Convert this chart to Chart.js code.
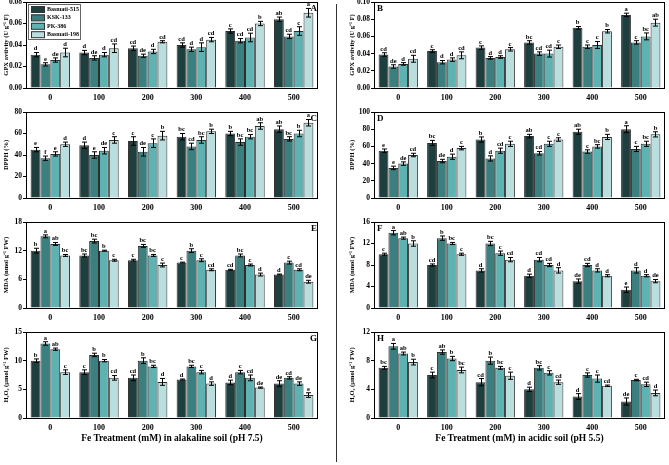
<!DOCTYPE html>
<html><head><meta charset="utf-8">
<script src="https://cdn.jsdelivr.net/npm/chart.js@4"></script>
<style>
body{margin:0;background:#fff;width:669px;height:465px;position:relative;overflow:hidden;font-family:"Liberation Serif",serif;}
canvas{position:absolute;}
.xt{position:absolute;font-weight:bold;font-size:9.5px;text-align:center;color:#000;white-space:nowrap;}
</style></head><body>
<div style="position:absolute;left:336px;top:4px;width:1px;height:458px;background:#333"></div>
<canvas id="cA" width="335" height="115" style="left:0;top:-5px"></canvas>
<canvas id="cC" width="335" height="115" style="left:0;top:105px"></canvas>
<canvas id="cE" width="335" height="115" style="left:0;top:215px"></canvas>
<canvas id="cG" width="335" height="115" style="left:0;top:325px"></canvas>
<canvas id="cB" width="331" height="115" style="left:338px;top:-5px"></canvas>
<canvas id="cD" width="331" height="115" style="left:338px;top:105px"></canvas>
<canvas id="cF" width="331" height="115" style="left:338px;top:215px"></canvas>
<canvas id="cH" width="331" height="115" style="left:338px;top:325px"></canvas>
<div class="xt" style="left:26px;width:292px;top:433px">Fe Treatment (mM) in alakaline soil (pH 7.5)</div>
<div class="xt" style="left:374px;width:291px;top:433px">Fe Treatment (mM) in acidic soil (pH 5.5)</div>
<script>
const categories = ['0','100','200','300','400','500'];
const cultivars = ['Basmati-515','KSK-133','PK-386','Basmati-198'];
const colors = ['#1f3e3e','#3b7f7f','#5fb2b2','#badddd'];

// Panel A: GPX, alkaline soil
const gpxAlkValues = [[0.031,0.033,0.037,0.040,0.053,0.064],[0.022,0.028,0.030,0.036,0.044,0.048],[0.026,0.031,0.034,0.038,0.047,0.053],[0.033,0.037,0.043,0.045,0.060,0.070]];
const gpxAlkErrors = [[0.002,0.002,0.002,0.002,0.002,0.002],[0.0015,0.002,0.0015,0.002,0.002,0.002],[0.002,0.002,0.002,0.004,0.004,0.004],[0.004,0.004,0.001,0.002,0.002,0.004]];
const gpxAlkLetters = [['d','d','cd','cd','c','ab'],['e','de','de','d','cd','cd'],['de','d','d','d','cd','c'],['d','cd','cd','cd','b','a']];
const gpxAlkTicks = ['0.00','0.02','0.04','0.06','0.08'];

// Panel B: GPX, acidic soil
const gpxAcdValues = [[0.039,0.043,0.047,0.053,0.070,0.085],[0.025,0.030,0.035,0.040,0.048,0.053],[0.028,0.033,0.036,0.040,0.050,0.060],[0.034,0.038,0.045,0.048,0.066,0.076]];
const gpxAcdErrors = [[0.002,0.0015,0.002,0.002,0.0015,0.002],[0.002,0.002,0.0015,0.002,0.002,0.002],[0.0015,0.002,0.0015,0.004,0.004,0.004],[0.004,0.004,0.002,0.002,0.002,0.004]];
const gpxAcdLetters = [['cd','c','c','bc','b','a'],['de','d','d','cd','c','c'],['d','d','d','cd','c','bc'],['cd','cd','c','c','b','ab']];
const gpxAcdTicks = ['0.00','0.02','0.04','0.06','0.08','0.10'];

// Panel C: DPPH, alkaline soil
const dpphAlkValues = [[45,49,53,57,60,64],[37,40,43,48,52,55],[41,44,51,54,57,60],[50,54,58,62,67,70]];
const dpphAlkErrors = [[2,3,4,3,2,3],[2,3,4,3,3,2],[2,3,4,3,2,3],[2,3,4,2,3,3]];
const dpphAlkLetters = [['e','d','c','bc','b','ab'],['f','e','de','cd','bc','bc'],['e','de','c','bc','bc','b'],['d','c','b','b','ab','a']];
const dpphAlkTicks = ['0','20','40','60','80'];

// Panel D: DPPH, acidic soil
const dpphAcdValues = [[55,64,68,72,77,80],[35,43,46,52,54,57],[40,48,55,63,60,63],[50,58,63,68,71,74]];
const dpphAcdErrors = [[2,3,3,2,3,4],[2,2,3,2,2,3],[2,3,3,3,2,3],[2,2,3,2,3,3]];
const dpphAcdLetters = [['e','bc','b','ab','ab','a'],['e','de','d','cd','c','c'],['de','d','cd','c','bc','bc'],['cd','c','c','c','b','b']];
const dpphAcdTicks = ['0','20','40','60','80','100'];

// Panel E: MDA, alkaline soil
const mdaAlkValues = [[12,11,10,9.5,8,7],[15,14,13,12,11,9.5],[13.4,12,11,10,9,8],[11,10,9,8,7,5.5]];
const mdaAlkErrors = [[0.5,0.3,0.2,0.1,0.1,0.1],[0.3,0.4,0.3,0.4,0.3,0.3],[0.3,0.1,0.2,0.3,0.2,0.2],[0.2,0.2,0.4,0.2,0.3,0.3]];
const mdaAlkLetters = [['b','bc','c','c','cd','d'],['a','bc','bc','b','bc','c'],['ab','b','bc','c','c','cd'],['bc','c','c','cd','d','de']];
const mdaAlkTicks = ['0','6','12','18'];

// Panel F: MDA, acidic soil
const mdaAcdValues = [[10,8,7,6,5,3.4],[14,13,12,9,8,7],[13,12,10.2,8,7,6],[12,10,9,7,6,5]];
const mdaAcdErrors = [[0.2,0.2,0.3,0.3,0.4,0.5],[0.4,0.4,0.4,0.4,0.3,0.5],[0.2,0.2,0.4,0.3,0.3,0.2],[0.5,0.2,0.4,0.5,0.2,0.3]];
const mdaAcdLetters = [['c','cd','d','d','de','e'],['a','b','bc','cd','cd','d'],['ab','bc','c','cd','d','d'],['b','c','cd','d','d','de']];
const mdaAcdTicks = ['0','4','8','12','16'];

// Panel G: H2O2, alkaline soil
const h2o2AlkValues = [[10,8,7,6.7,6.2,6],[13,11,10,9,8,7],[12,10,9,8,7,6],[8,7,6.3,6,5.3,4]];
const h2o2AlkErrors = [[0.3,0.4,0.5,0.1,0.4,0.5],[0.3,0.3,0.5,0.2,0.3,0.2],[0.2,0.2,0.2,0.3,0.5,0.3],[0.4,0.4,0.6,0.3,0.1,0.4]];
const h2o2AlkLetters = [['b','c','cd','d','d','de'],['a','b','b','bc','c','cd'],['ab','b','bc','c','cd','de'],['c','cd','d','d','de','e']];
const h2o2AlkTicks = ['0','5','10','15'];

// Panel H: H2O2, acidic soil
const h2o2AcdValues = [[7,6,5,4,3,2.3],[10,9.2,8,7,6,5.3],[9,8.3,7,6.3,5.5,4.7],[7.8,6.7,5.9,5,4.5,3.5]];
const h2o2AcdErrors = [[0.2,0.4,0.5,0.3,0.4,0.5],[0.4,0.3,0.5,0.3,0.3,0.1],[0.2,0.3,0.2,0.3,0.5,0.3],[0.4,0.4,0.5,0.3,0.1,0.4]];
const h2o2AcdLetters = [['bc','c','cd','d','d','de'],['a','ab','b','bc','c','c'],['ab','b','bc','c','c','cd'],['b','bc','c','cd','cd','d']];
const h2o2AcdTicks = ['0','4','8','12'];

const FAM = '"Liberation Serif", "Times New Roman", serif';

const panelPlugin = {
  id: 'panel',
  afterDatasetsDraw(chart, args, opts) {
    const ctx = chart.ctx, a = chart.chartArea, ys = chart.scales.y;
    ctx.save();
    chart.data.datasets.forEach((ds, di) => {
      const meta = chart.getDatasetMeta(di);
      meta.data.forEach((bar, i) => {
        const v = ds.data[i], e = ds.errs[i];
        const yt = ys.getPixelForValue(v + e), yb = ys.getPixelForValue(v - e);
        const x = Math.round(bar.x) + 0.5;
        ctx.strokeStyle = '#000'; ctx.lineWidth = 1;
        ctx.beginPath();
        ctx.moveTo(x, yt); ctx.lineTo(x, yb);
        ctx.moveTo(x - 2.5, yt); ctx.lineTo(x + 2.5, yt);
        ctx.moveTo(x - 2.5, yb); ctx.lineTo(x + 2.5, yb);
        ctx.stroke();
        ctx.fillStyle = '#000';
        ctx.font = 'bold 6.5px ' + FAM;
        ctx.textAlign = 'center'; ctx.textBaseline = 'bottom';
        ctx.fillText(ds.letters[i], bar.x, yt - 0.5);
      });
    });
    ctx.strokeStyle = '#000'; ctx.lineWidth = 1;
    ctx.strokeRect(Math.round(a.left) + 0.5, Math.round(a.top) + 0.5, Math.round(a.right - a.left) - 1, Math.round(a.bottom - a.top));
    ctx.fillStyle = '#000';
    ctx.font = 'bold 9px ' + FAM;
    ctx.textBaseline = 'top';
    if (opts.side === 'L') { ctx.textAlign = 'right'; ctx.fillText(opts.letter, a.right - 1, a.top + 2); }
    else { ctx.textAlign = 'left'; ctx.fillText(opts.letter, a.left + 3, a.top + 2); }
    if (opts.legend) {
      const lx = a.left + 2, ly = a.top + 2;
      ctx.fillStyle = '#fff'; ctx.fillRect(lx, ly, 52, 35);
      ctx.strokeStyle = '#666'; ctx.strokeRect(lx + 0.5, ly + 0.5, 52, 35);
      ctx.font = 'bold 6px ' + FAM; ctx.textAlign = 'left'; ctx.textBaseline = 'middle';
      chart.data.datasets.forEach((ds, k) => {
        const yy = ly + 5 + k * 8.4;
        ctx.fillStyle = ds.backgroundColor; ctx.fillRect(lx + 3, yy - 3, 14, 6.5);
        ctx.strokeStyle = '#333'; ctx.strokeRect(lx + 3.5, yy - 2.5, 13, 6);
        ctx.fillStyle = '#000'; ctx.fillText(ds.label, lx + 19, yy + 0.5);
      });
    }
    ctx.restore();
  }
};

function makeChart(id, side, values, errs, letters, ticks, title, letter, legend) {
  const L = side === 'L';
  const yMax = parseFloat(ticks[ticks.length - 1]);
  const step = parseFloat(ticks[1]) - parseFloat(ticks[0]);
  new Chart(document.getElementById(id), {
    type: 'bar',
    data: {
      labels: categories,
      datasets: cultivars.map((c, k) => ({
        label: c, data: values[k], errs: errs[k], letters: letters[k],
        backgroundColor: colors[k], borderColor: '#2e2e2e', borderWidth: 1,
        categoryPercentage: 0.81, barPercentage: 1.0
      }))
    },
    options: {
      responsive: false, animation: false,
      layout: { padding: { top: 7, right: L ? 17 : 4, left: 0, bottom: 0 } },
      plugins: { legend: { display: false }, tooltip: { enabled: false },
        panel: { side: side, letter: letter, legend: !!legend } },
      scales: {
        x: {
          grid: { display: false, drawTicks: false }, border: { display: false },
          ticks: { padding: 5, color: '#000', font: { family: FAM, size: 8, weight: 'bold' } },
          afterFit(s) { s.height = 22; s.paddingLeft = 0; s.paddingRight = 0; }
        },
        y: {
          min: 0, max: yMax,
          ticks: { stepSize: step, color: '#000', padding: 1,
            font: { family: FAM, size: 7.5, weight: 'bold' },
            callback: (v, i) => (ticks[i] !== undefined ? ticks[i] : v) },
          grid: { drawOnChartArea: false, drawTicks: true, tickLength: 3, color: '#000' },
          border: { display: false },
          title: { display: true, text: title, color: '#000', padding: { top: L ? 2 : 10, bottom: 0 },
            font: { family: FAM, size: 6.5, weight: 'bold' } },
          afterFit(s) { s.width = L ? 26 : 36; s.paddingTop = 0; s.paddingBottom = 0; }
        }
      }
    },
    plugins: [panelPlugin]
  });
}

makeChart('cA', 'L', gpxAlkValues, gpxAlkErrors, gpxAlkLetters, gpxAlkTicks, 'GPX avtivity (U g\u207B\u00B9 F)', 'A', true);
makeChart('cB', 'R', gpxAcdValues, gpxAcdErrors, gpxAcdLetters, gpxAcdTicks, 'GPX avtivity (U g\u207B\u00B9 F)', 'B');
makeChart('cC', 'L', dpphAlkValues, dpphAlkErrors, dpphAlkLetters, dpphAlkTicks, 'DPPH (%)', 'C');
makeChart('cD', 'R', dpphAcdValues, dpphAcdErrors, dpphAcdLetters, dpphAcdTicks, 'DPPH (%)', 'D');
makeChart('cE', 'L', mdaAlkValues, mdaAlkErrors, mdaAlkLetters, mdaAlkTicks, 'MDA (nmol g\u207B\u00B9 FW)', 'E');
makeChart('cF', 'R', mdaAcdValues, mdaAcdErrors, mdaAcdLetters, mdaAcdTicks, 'MDA (nmol g\u207B\u00B9 FW)', 'F');
makeChart('cG', 'L', h2o2AlkValues, h2o2AlkErrors, h2o2AlkLetters, h2o2AlkTicks, 'H\u2082O\u2082 (\u00B5mol g\u207B\u00B9 FW)', 'G');
makeChart('cH', 'R', h2o2AcdValues, h2o2AcdErrors, h2o2AcdLetters, h2o2AcdTicks, 'H\u2082O\u2082 (\u00B5mol g\u207B\u00B9 FW)', 'H');
</script>
</body></html>
